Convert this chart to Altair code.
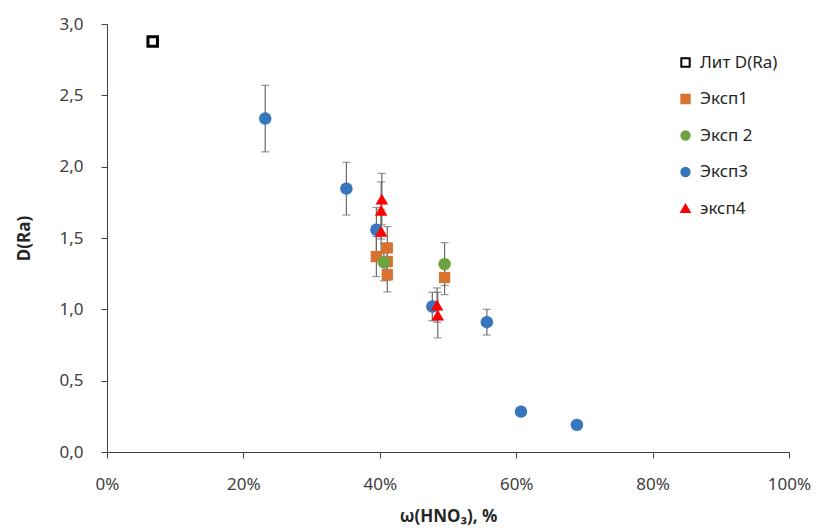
import altair as alt
import pandas as pd

series_names = ["Лит D(Ra)", "Эксп1", "Эксп 2", "Эксп3", "эксп4"]

lit_x = [6.7]
lit_y = [2.877]
lit_err = [0.0]

e1_x = [39.5, 41.1, 41.1, 41.1, 49.5]
e1_y = [1.37, 1.43, 1.335, 1.242, 1.223]
e1_err = [0.14, 0.15, 0.13, 0.12, 0.12]

e2_x = [40.6, 49.5]
e2_y = [1.33, 1.317]
e2_err = [0.13, 0.15]

e3_x = [23.2, 35.1, 39.5, 47.7, 55.7, 60.7, 68.9]
e3_y = [2.337, 1.846, 1.558, 1.02, 0.91, 0.283, 0.19]
e3_err = [0.233, 0.185, 0.156, 0.1, 0.09, 0.0, 0.0]

e4_x = [40.3, 40.2, 40.2, 48.4, 48.5]
e4_y = [1.773, 1.693, 1.546, 1.03, 0.96]
e4_err = [0.18, 0.2, 0.155, 0.12, 0.16]

rows = []
for name, xs, ys, es in zip(series_names,
                            [lit_x, e1_x, e2_x, e3_x, e4_x],
                            [lit_y, e1_y, e2_y, e3_y, e4_y],
                            [lit_err, e1_err, e2_err, e3_err, e4_err]):
    for x, y, e in zip(xs, ys, es):
        rows.append({"series": name, "x": x, "y": y, "lo": y - e, "hi": y + e, "err": e})
df = pd.DataFrame(rows)

FONT = "Noto Sans"
err_color = "#6b6b6b"

xscale = alt.Scale(domain=[0, 100], nice=False, zero=False)
yscale = alt.Scale(domain=[0, 3], nice=False)

base = alt.Chart(df)
edf = base.transform_filter("datum.err > 0")

rules = edf.mark_rule(color=err_color, strokeWidth=1.2).encode(
    x=alt.X("x:Q", scale=xscale),
    y=alt.Y("lo:Q", scale=yscale),
    y2="hi:Q",
)
caps_lo = edf.mark_tick(color=err_color, thickness=1.2, size=8, orient="horizontal").encode(
    x=alt.X("x:Q", scale=xscale), y=alt.Y("lo:Q", scale=yscale)
)
caps_hi = edf.mark_tick(color=err_color, thickness=1.2, size=8, orient="horizontal").encode(
    x=alt.X("x:Q", scale=xscale), y=alt.Y("hi:Q", scale=yscale)
)

fill_range = ["#ffffff", "#d9722f", "#6aa33f", "#3676bd", "#ff0000"]
stroke_range = ["#000000", "#d9722f", "#6aa33f", "#3676bd", "#ff0000"]
shape_range = ["square", "square", "circle", "circle", "triangle-up"]

legend = alt.Legend(
    title=None, orient="none", legendX=570, legendY=30,
    labelFont=FONT, labelFontSize=17, labelColor="#262626",
    symbolSize=70, symbolStrokeWidth=2, rowPadding=18.5, labelOffset=6,
)

enc = dict(
    x=alt.X("x:Q", scale=xscale,
            axis=alt.Axis(values=[0, 20, 40, 60, 80, 100], labelExpr="datum.value + '%'",
                          title="ω(HNO₃), %")),
    y=alt.Y("y:Q", scale=yscale,
            axis=alt.Axis(values=[0, 0.5, 1, 1.5, 2, 2.5, 3],
                          labelExpr="replace(format(datum.value, '.1f'), '.', ',')",
                          title="D(Ra)")),
    shape=alt.Shape("series:N", scale=alt.Scale(domain=series_names, range=shape_range), legend=legend),
    fill=alt.Fill("series:N", scale=alt.Scale(domain=series_names, range=fill_range), legend=legend),
    stroke=alt.Stroke("series:N", scale=alt.Scale(domain=series_names, range=stroke_range), legend=legend),
)

pts_lit = base.transform_filter(alt.datum.series == series_names[0]).mark_point(
    filled=True, opacity=1, size=90, strokeWidth=3).encode(**enc)
pts_sq = base.transform_filter(alt.datum.series == series_names[1]).mark_point(
    filled=True, opacity=1, size=125, strokeWidth=0.1).encode(**enc)
pts_rest = base.transform_filter(
    (alt.datum.series != series_names[0]) & (alt.datum.series != series_names[1])
).mark_point(filled=True, opacity=1, size=155, strokeWidth=0.1).encode(**enc)

chart = alt.layer(rules, caps_lo, caps_hi, pts_lit, pts_sq, pts_rest).properties(
    width=682, height=428,
    padding={"left": 107, "top": 24, "right": 27, "bottom": 76},
    autosize=alt.AutoSizeParams(type="none"),
).configure_view(stroke=None).configure_axis(
    grid=False, domainColor="#404040", tickColor="#404040", tickSize=6, labelFlush=False,
    labelFont=FONT, labelFontSize=17, labelColor="#404040",
    titleFont=FONT, titleFontSize=17, titleFontWeight="bold", titleColor="#262626",
).configure_axisX(labelPadding=18, titlePadding=16).configure_axisY(labelPadding=18, titlePadding=25)

chart.save("out.html", embed_options={"renderer": "svg", "actions": False})
